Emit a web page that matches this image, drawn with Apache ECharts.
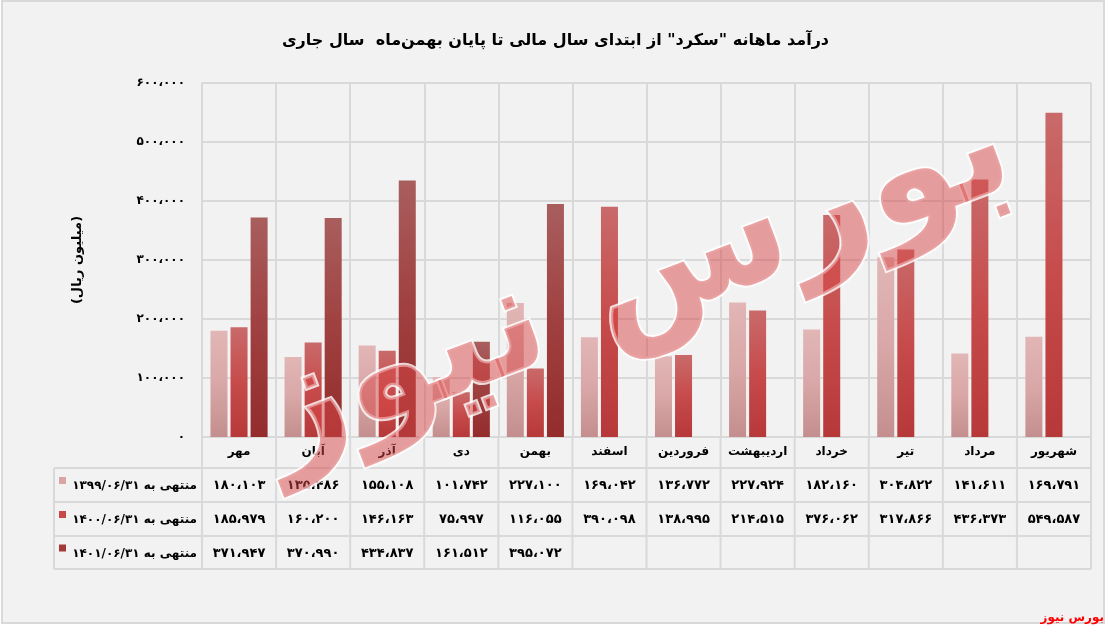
<!DOCTYPE html>
<html>
<head>
<meta charset="utf-8">
<script src="https://cdn.jsdelivr.net/npm/echarts@6.0.0/dist/echarts.min.js"></script>
<style>
html,body{margin:0;padding:0;background:#ffffff;}
#main{width:1111px;height:632px;}
</style>
</head>
<body>
<div id="main"></div>
<script>
const titleText = 'درآمد ماهانه "سکرد" از ابتدای سال مالی تا پایان بهمن‌ماه  سال جاری';
const yAxisTitle = '(میلیون ریال)';
const sourceText = 'بورس نیوز';
const categories = ['مهر','آبان','آذر','دی','بهمن','اسفند','فروردین','اردیبهشت','خرداد','تیر','مرداد','شهریور'];
const seriesNames = ['منتهی به ۱۳۹۹/۰۶/۳۱','منتهی به ۱۴۰۰/۰۶/۳۱','منتهی به ۱۴۰۱/۰۶/۳۱'];
const s1399 = [180103,135486,155108,101742,227100,169042,136772,227924,182160,304822,141611,169791];
const s1400 = [185979,160200,146163,75997,116055,390098,138995,214515,376062,317866,436373,549587];
const s1401 = [371947,370990,434837,161512,395072,null,null,null,null,null,null,null];
const yTicks = [0,100000,200000,300000,400000,500000,600000];

const FONT = '"DejaVu Sans", "Noto Sans", sans-serif';
const faDigits = '۰۱۲۳۴۵۶۷۸۹';
function toFa(n){
  if(n===null||n===undefined) return '';
  const s = String(Math.round(n)).replace(/\B(?=(\d{3})+(?!\d))/g, '،');
  return s.replace(/\d/g, d => faDigits[+d]);
}
function grad(stops){
  return new echarts.graphic.LinearGradient(0,0,0,1, stops.map((c,i)=>({offset:i/(stops.length-1), color:c})));
}
const barColors = [
  grad(['#e2b6b6','#d9a7a7','#c48e8e']),
  grad(['#c96a6a','#c74b4b','#b73838']),
  grad(['#a95e5e','#a04040','#942c2c'])
];
const legendColors = ['#d8a4a4','#c84848','#a23a3a'];
const seriesData = [s1399, s1400, s1401];

const chart = echarts.init(document.getElementById('main'), null, {renderer:'canvas'});
const option = {
  backgroundColor: 'transparent',
  animation: false,
  title: {
    text: titleText, left: 'center', top: 28,
    textStyle: {fontFamily: FONT, fontSize: 16, fontWeight: 'bold', color: '#000'}
  },
  grid: {left: 202, right: 20, top: 83, bottom: 195, containLabel: false},
  xAxis: {
    type: 'category', data: categories, boundaryGap: true,
    axisLine: {show: true, lineStyle: {color: '#d9d9d9', width: 2}},
    axisTick: {show: false},
    axisLabel: {show: true, margin: 9, color: '#000', fontFamily: FONT, fontSize: 12, fontWeight: 'bold', interval: 0},
    splitLine: {show: true, interval: 0, lineStyle: {color: '#d9d9d9', width: 2}}
  },
  yAxis: {
    type: 'value', min: yTicks[0], max: yTicks[yTicks.length-1], interval: yTicks[1]-yTicks[0],
    name: yAxisTitle, nameLocation: 'middle', nameRotate: 90, nameGap: 118,
    nameTextStyle: {fontFamily: FONT, fontSize: 13, fontWeight: 'bold', color: '#000'},
    axisLine: {show: true, lineStyle: {color: '#d9d9d9', width: 2}},
    axisTick: {show: false},
    axisLabel: {margin: 17, color: '#000', fontFamily: FONT, fontSize: 12, fontWeight: 'bold', formatter: v => toFa(v)},
    splitLine: {show: true, lineStyle: {color: '#d9d9d9', width: 2}}
  },
  series: seriesData.map((d, i) => ({
    name: seriesNames[i], type: 'bar', data: d,
    barWidth: 17, barGap: '18%',
    itemStyle: {color: barColors[i], shadowColor: 'rgba(0,0,0,0.45)', shadowBlur: 5, shadowOffsetX: 3, shadowOffsetY: 0}
  }))
};
chart.setOption(option);

// Data table below the plot, positioned from the category axis scale
const c0 = chart.convertToPixel({xAxisIndex: 0}, 0);
const c1 = chart.convertToPixel({xAxisIndex: 0}, 1);
const cw = c1 - c0;
const plotLeft = c0 - cw / 2;
const plotRight = plotLeft + cw * categories.length;
const yBase = chart.convertToPixel({yAxisIndex: 0}, 0);
const tableLeft = 54;
const rowTops = [yBase + 31, yBase + 65, yBase + 99, yBase + 132];
const lineStyle = {stroke: '#d9d9d9', lineWidth: 2};
const g = [];
// outer frame
g.push({type: 'rect', shape: {x: 2, y: 1, width: 1102, height: 622}, style: {fill: '#f2f2f2', stroke: '#d9d9d9', lineWidth: 2}, z: -10, silent: true});
rowTops.forEach(y => g.push({type: 'line', shape: {x1: tableLeft, y1: y, x2: plotRight, y2: y}, style: lineStyle, z: 1}));
g.push({type: 'line', shape: {x1: tableLeft, y1: rowTops[0], x2: tableLeft, y2: rowTops[3]}, style: lineStyle, z: 1});
for (let i = 0; i <= categories.length; i++) {
  const x = plotLeft + i * cw;
  g.push({type: 'line', shape: {x1: x, y1: yBase, x2: x, y2: rowTops[3]}, style: lineStyle, z: 1});
}
seriesData.forEach((d, r) => {
  const yc = (rowTops[r] + rowTops[r + 1]) / 2;
  d.forEach((v, i) => {
    if (v === null) return;
    g.push({type: 'text', x: chart.convertToPixel({xAxisIndex: 0}, i), y: yc + 1,
      style: {text: toFa(v), fill: '#000', fontFamily: FONT, fontSize: 13, fontWeight: 'bold', align: 'center', verticalAlign: 'middle'}, z: 2});
  });
  g.push({type: 'rect', shape: {x: 59, y: yc - 8, width: 7, height: 7}, style: {fill: legendColors[r]}, z: 2});
  g.push({type: 'text', x: 197, y: yc + 1,
    style: {text: seriesNames[r], fill: '#000', fontFamily: FONT, fontSize: 12, fontWeight: 'bold', align: 'right', verticalAlign: 'middle'}, z: 2});
});
// watermark
g.push({type: 'text', x: 635, y: 285, rotation: 0.36, z: 50, silent: true,
  style: {text: sourceText, fill: 'rgba(215,70,70,0.5)', stroke: 'rgba(255,255,255,0.8)', lineWidth: 4,
    fontFamily: FONT, fontSize: 150, fontWeight: 'bold', align: 'center', verticalAlign: 'middle'}});
// source
g.push({type: 'text', x: 1104, y: 618,
  style: {text: sourceText, fill: '#ff0000', fontFamily: FONT, fontSize: 12, fontWeight: 'bold', align: 'right', verticalAlign: 'middle'}, z: 2});
chart.setOption({graphic: g});
</script>
</body>
</html>
